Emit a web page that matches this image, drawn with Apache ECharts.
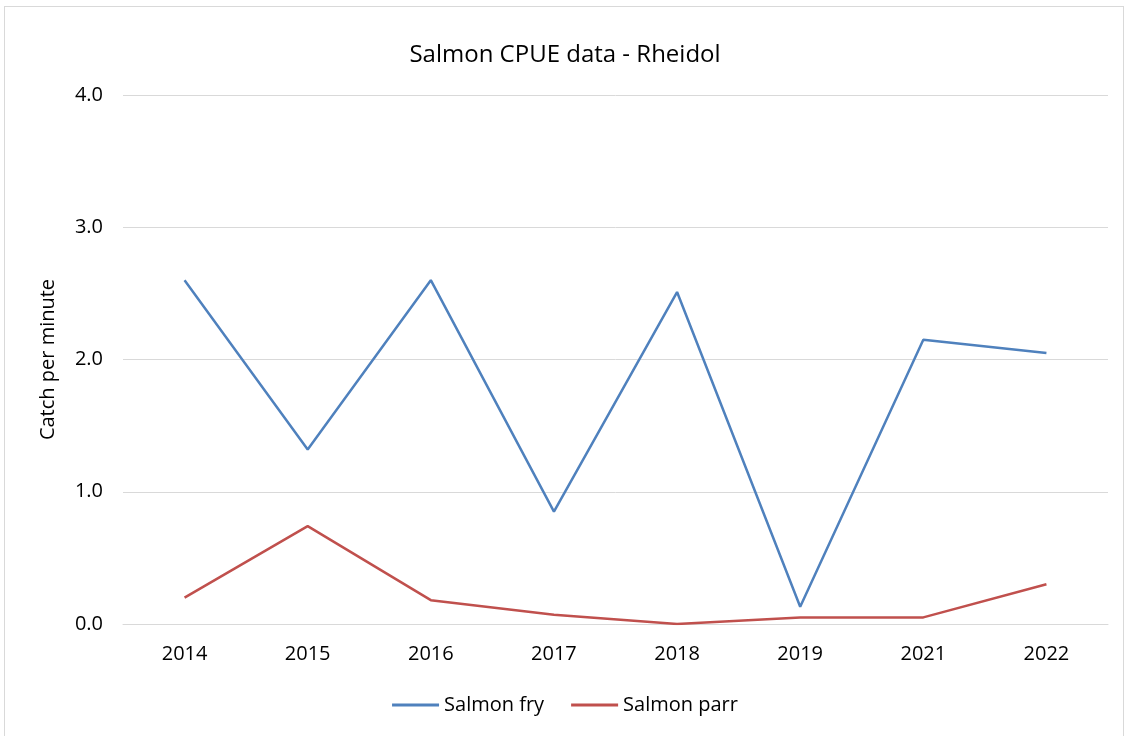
<!DOCTYPE html>
<html>
<head>
<meta charset="utf-8">
<script src="https://cdn.jsdelivr.net/npm/echarts@6/dist/echarts.min.js"></script>
<style>
    html, body { margin: 0; padding: 0; background: #fff; }
    #frame { position: absolute; left: 4px; top: 6px; width: 1120px; height: 740px; border: 1px solid #d9d9d9; box-sizing: border-box; }
    #chart { position: absolute; left: 0; top: 0; width: 1130px; height: 736px; }
</style>
</head>
<body>
<div id="frame"></div>
<div id="chart"></div>
<script>
// data
var years = ['2014', '2015', '2016', '2017', '2018', '2019', '2021', '2022'];
var salmonFry = [2.60, 1.32, 2.60, 0.85, 2.51, 0.13, 2.15, 2.05];
var salmonParr = [0.20, 0.74, 0.18, 0.07, 0.00, 0.05, 0.05, 0.30];

var font = 'Open Sans';

var CpueOption = {
    animation: false,
    textStyle: { fontFamily: font },
    title: {
        text: 'Salmon CPUE data - Rheidol',
        left: 'center',
        top: 38,
        textStyle: { fontFamily: font, fontSize: 24, fontWeight: 'normal', color: '#000' }
    },
    legend: {
        bottom: 16,
        left: 'center',
        itemWidth: 47,
        itemHeight: 3,
        itemGap: 27,
        icon: 'rect',
        textStyle: { fontFamily: font, fontSize: 20, color: '#000' },
        data: ['Salmon fry', 'Salmon parr']
    },
    grid: {
        left: 123,
        right: 22,
        top: 95,
        bottom: 112
    },
    xAxis: [
        {
            type: 'category',
            data: years,
            boundaryGap: true,
            axisLine: { lineStyle: { color: '#d9d9d9' } },
            axisTick: { show: false },
            axisLabel: { fontFamily: font, fontSize: 20, color: '#000', margin: 20 }
        }
    ],
    yAxis: [
        {
            type: 'value',
            min: 0,
            max: 4,
            interval: 1,
            name: 'Catch per minute',
            nameLocation: 'middle',
            nameGap: 65,
            nameTextStyle: { fontFamily: font, fontSize: 20, color: '#000' },
            axisLine: { show: false },
            axisTick: { show: false },
            splitLine: { lineStyle: { color: '#d9d9d9' } },
            axisLabel: {
                fontFamily: font, fontSize: 20, color: '#000', margin: 20,
                formatter: function (v) { return v.toFixed(1); }
            }
        }
    ],
    series: [
        {
            name: 'Salmon fry',
            type: 'line',
            data: salmonFry,
            color: '#4f81bd',
            symbol: 'none',
            lineStyle: { width: 2.5 }
        },
        {
            name: 'Salmon parr',
            type: 'line',
            data: salmonParr,
            color: '#c0504d',
            symbol: 'none',
            lineStyle: { width: 2.5 }
        }
    ]
};

var CpueChart = echarts.init(document.getElementById('chart'));
CpueChart.setOption(CpueOption, true);

window.addEventListener('resize', function () {
    CpueChart.resize();
});
</script>
</body>
</html>
